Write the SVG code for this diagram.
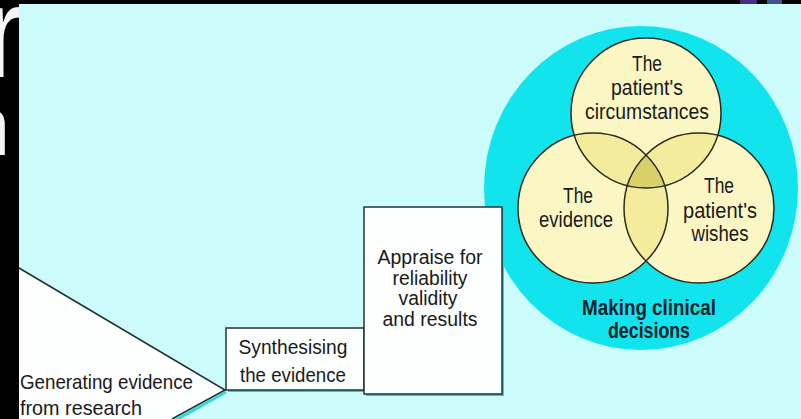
<svg xmlns="http://www.w3.org/2000/svg" width="801" height="419" viewBox="0 0 801 419">
<style>
.t{font-family:"Liberation Sans",Arial,sans-serif;font-size:22px;fill:#1a1a1a;text-anchor:middle}
.m{font-size:21px}
.a{font-size:20px}
.s{text-anchor:start}
.b{font-weight:bold;fill:#13222c}
.frag{font-family:"Liberation Sans",Arial,sans-serif;fill:#f4f4f4}
.pale{fill:#fbf7c5}
.pair{fill:#f3ec9c}
.tri{fill:#d9d06a}
.ring{fill:none;stroke:#2b2a1e;stroke-width:1.5}
.box{fill:#fdfefe;stroke:#1f3535;stroke-width:1.5}
.shadow{fill:#35c9d0}
</style>
<defs>
<clipPath id="strip"><rect x="0" y="0" width="19" height="419"/></clipPath>
<clipPath id="cT"><circle cx="646" cy="113" r="75"/></clipPath>
<clipPath id="cL"><circle cx="593" cy="208" r="75"/></clipPath>
<clipPath id="cR"><circle cx="699" cy="208" r="75"/></clipPath>
</defs>
<rect x="0" y="0" width="801" height="419" fill="#000"/>
<g clip-path="url(#strip)">
<text class="frag" x="-17" y="77" font-size="130">r</text>
<text class="frag" x="-36" y="155" font-size="83">n</text>
</g>
<rect x="740" y="0" width="17" height="4" fill="#4a2a8a"/>
<rect x="767" y="0" width="15" height="4" fill="#3a5590"/>
<rect x="19" y="4" width="782" height="415" fill="#cbfbfb"/>

<g id="n-decisions">
<ellipse cx="641" cy="188" rx="157" ry="162" fill="#12e4ee"/>
<circle class="pale" cx="646" cy="113" r="75"/>
<circle class="pale" cx="593" cy="208" r="75"/>
<circle class="pale" cx="699" cy="208" r="75"/>
<g clip-path="url(#cT)">
<circle class="pair" cx="593" cy="208" r="75"/>
<circle class="pair" cx="699" cy="208" r="75"/>
</g>
<g clip-path="url(#cL)"><circle class="pair" cx="699" cy="208" r="75"/></g>
<g clip-path="url(#cT)"><g clip-path="url(#cL)"><circle class="tri" cx="699" cy="208" r="75"/></g></g>
<circle class="ring" cx="646" cy="113" r="75"/>
<circle class="ring" cx="593" cy="208" r="75"/>
<circle class="ring" cx="699" cy="208" r="75"/>
<text class="t" x="647" y="71" textLength="30" lengthAdjust="spacingAndGlyphs">The</text>
<text class="t" x="647" y="95" textLength="72" lengthAdjust="spacingAndGlyphs">patient's</text>
<text class="t" x="647" y="119" textLength="124" lengthAdjust="spacingAndGlyphs">circumstances</text>
<text class="t" x="578" y="203" textLength="30" lengthAdjust="spacingAndGlyphs">The</text>
<text class="t" x="576" y="227" textLength="74" lengthAdjust="spacingAndGlyphs">evidence</text>
<text class="t" x="719" y="193" textLength="30" lengthAdjust="spacingAndGlyphs">The</text>
<text class="t" x="720" y="218" textLength="74" lengthAdjust="spacingAndGlyphs">patient's</text>
<text class="t" x="720" y="241" textLength="57" lengthAdjust="spacingAndGlyphs">wishes</text>
<text class="t b" x="649" y="315" textLength="134" lengthAdjust="spacingAndGlyphs">Making clinical</text>
<text class="t b" x="649" y="338" textLength="82" lengthAdjust="spacingAndGlyphs">decisions</text>
</g>

<g id="n-generate">
<path d="M19,268 L225,390 L172,419 L19,419 Z" fill="#fdfefe"/>
<path d="M226,392 L174,421" fill="none" stroke="#35d6de" stroke-width="3"/>
<path d="M19,268 L225,390 L172,419" fill="none" stroke="#1f3030" stroke-width="1.5"/>
<text class="t m s" x="20" y="389" textLength="173" lengthAdjust="spacingAndGlyphs">Generating evidence</text>
<text class="t m s" x="20" y="415" textLength="122" lengthAdjust="spacingAndGlyphs">from research</text>
</g>

<g id="n-synth">
<rect class="shadow" x="228" y="330" width="138" height="62"/>
<rect class="box" x="226" y="328" width="138" height="62"/>
<text class="t m" x="293" y="354" textLength="109" lengthAdjust="spacingAndGlyphs">Synthesising</text>
<text class="t m" x="293" y="382" textLength="106" lengthAdjust="spacingAndGlyphs">the evidence</text>
</g>

<g id="n-appraise">
<rect class="shadow" x="366" y="209" width="138" height="187"/>
<rect class="box" x="364" y="207" width="138" height="187"/>
<text class="t a" x="430" y="264" textLength="105" lengthAdjust="spacingAndGlyphs">Appraise for</text>
<text class="t a" x="430" y="285" textLength="75" lengthAdjust="spacingAndGlyphs">reliability</text>
<text class="t a" x="428" y="305" textLength="59" lengthAdjust="spacingAndGlyphs">validity</text>
<text class="t a" x="430" y="326" textLength="95" lengthAdjust="spacingAndGlyphs">and results</text>
</g>

<g id="connectors"></g>
</svg>
